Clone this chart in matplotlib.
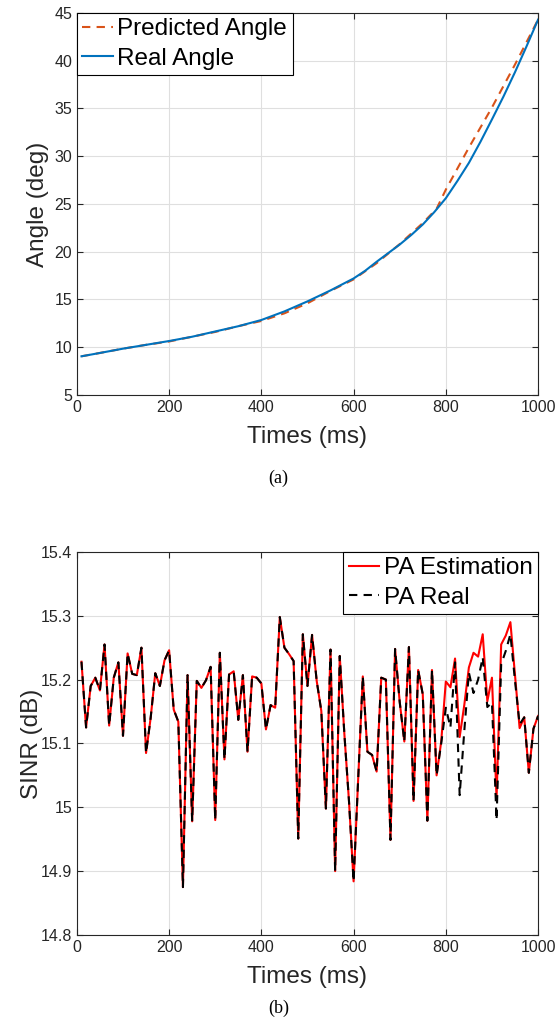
import matplotlib
matplotlib.use("Agg")
import matplotlib.pyplot as plt
import numpy as np
from matplotlib.ticker import FormatStrFormatter

plt.rcParams['font.family'] = ['Liberation Sans', 'DejaVu Sans']

# (a) angle tracking
angle_t = [10, 50, 100, 150, 200, 250, 300, 350, 400, 450, 500, 550, 600,
           625, 650, 675, 700, 725, 750, 775, 800, 825, 850, 875, 900, 925,
           950, 975, 1000]
real_angle = [9.05, 9.4, 9.85, 10.25, 10.65, 11.1, 11.65, 12.2, 12.85, 13.75,
              14.8, 15.95, 17.2, 18.0, 18.95, 19.85, 20.75, 21.75, 22.85, 24.15,
              25.6, 27.4, 29.3, 31.5, 33.85, 36.25, 38.8, 41.5, 44.3]
pred_t = [10, 50, 100, 150, 200, 250, 300, 350, 400, 450, 500, 550, 600,
          650, 700, 750, 780, 800, 850, 900, 950, 965, 1000]
pred_angle = [9.05, 9.4, 9.85, 10.25, 10.6, 11.1, 11.6, 12.2, 12.75, 13.55,
              14.6, 15.9, 17.1, 18.8, 20.8, 23.0, 24.5, 26.5, 30.9, 35.1, 39.6,
              41.0, 44.3]

# (b) SINR, one sample every 10 ms
sinr_t = list(range(10, 1001, 10))
pa_est = [15.228, 15.125, 15.190, 15.203, 15.183, 15.255, 15.128, 15.203, 15.227, 15.112,
          15.241, 15.209, 15.207, 15.250, 15.085, 15.140, 15.210, 15.190, 15.230, 15.246,
          15.153, 15.134, 14.875, 15.207, 14.978, 15.198, 15.187, 15.199, 15.220, 14.980,
          15.242, 15.075, 15.208, 15.213, 15.137, 15.207, 15.087, 15.205, 15.203, 15.194,
          15.122, 15.160, 15.156, 15.298, 15.250, 15.240, 15.229, 14.951, 15.271, 15.190,
          15.270, 15.198, 15.151, 14.998, 15.247, 14.900, 15.237, 15.115, 15.010, 14.884,
          15.045, 15.205, 15.087, 15.082, 15.056, 15.203, 15.200, 14.949, 15.248, 15.165,
          15.103, 15.251, 15.010, 15.215, 15.177, 14.979, 15.215, 15.050, 15.103, 15.197,
          15.188, 15.233, 15.110, 15.160, 15.219, 15.242, 15.236, 15.271, 15.166, 15.203,
          15.014, 15.255, 15.269, 15.290, 15.207, 15.124, 15.141, 15.054, 15.123, 15.143]
pa_real = [15.228, 15.125, 15.190, 15.203, 15.183, 15.255, 15.128, 15.203, 15.227, 15.112,
           15.241, 15.209, 15.207, 15.250, 15.085, 15.140, 15.210, 15.190, 15.230, 15.246,
           15.153, 15.134, 14.875, 15.207, 14.978, 15.198, 15.187, 15.199, 15.220, 14.980,
           15.242, 15.075, 15.208, 15.213, 15.137, 15.207, 15.087, 15.205, 15.203, 15.194,
           15.122, 15.160, 15.156, 15.298, 15.250, 15.240, 15.229, 14.951, 15.271, 15.190,
           15.270, 15.198, 15.151, 14.998, 15.247, 14.900, 15.237, 15.115, 15.010, 14.884,
           15.045, 15.205, 15.087, 15.082, 15.056, 15.203, 15.200, 14.949, 15.248, 15.165,
           15.103, 15.251, 15.010, 15.215, 15.177, 14.979, 15.215, 15.050, 15.100, 15.156,
           15.125, 15.227, 15.019, 15.119, 15.211, 15.179, 15.200, 15.235, 15.157, 15.164,
           14.980, 15.224, 15.245, 15.271, 15.198, 15.130, 15.141, 15.054, 15.123, 15.143]

fig = plt.figure(figsize=(5.57, 10.27), dpi=100)
ax1 = fig.add_axes([0.138, 0.6154, 0.828, 0.372])
ax2 = fig.add_axes([0.138, 0.0896, 0.828, 0.373])

spine_col = '#262626'
grid_col = '#dfdfdf'


def style_axes(ax):
    ax.set_axisbelow(True)
    ax.grid(True, color=grid_col, linewidth=0.8)
    for s in ax.spines.values():
        s.set_color(spine_col)
        s.set_linewidth(0.8)
    ax.tick_params(direction='in', top=True, right=True, labelsize=11.5,
                   colors=spine_col, length=4, width=0.8)


def add_legend(ax, loc):
    leg = ax.legend(loc=loc, fontsize=17.5, fancybox=False, framealpha=1,
                    edgecolor='black', borderaxespad=0, handlelength=1.25,
                    handletextpad=0.2, borderpad=0.22, labelspacing=0.3)
    leg.get_frame().set_linewidth(0.8)


ax1.plot(pred_t, pred_angle, '--', color='#d95319', lw=1.5, dashes=(4, 3),
         label='Predicted Angle')
ax1.plot(angle_t, real_angle, '-', color='#0072bd', lw=1.5, label='Real Angle')
ax1.set_xlim(0, 1000)
ax1.set_ylim(5, 45)
ax1.set_xticks(np.arange(0, 1001, 200))
ax1.set_yticks(np.arange(5, 46, 5))
style_axes(ax1)
ax1.set_xlabel('Times (ms)', fontsize=17.5, color=spine_col, labelpad=8)
ax1.set_ylabel('Angle (deg)', fontsize=17.5, color=spine_col, labelpad=4)
add_legend(ax1, 'upper left')

ax2.plot(sinr_t, pa_est, '-', color='red', lw=1.5, label='PA Estimation')
ax2.plot(sinr_t, pa_real, '--', color='black', lw=1.5, dashes=(4, 3),
         label='PA Real')
ax2.set_xlim(0, 1000)
ax2.set_ylim(14.8, 15.4)
ax2.set_xticks(np.arange(0, 1001, 200))
ax2.set_yticks(np.round(np.arange(14.8, 15.41, 0.1), 1))
ax2.yaxis.set_major_formatter(FormatStrFormatter('%g'))
style_axes(ax2)
ax2.set_xlabel('Times (ms)', fontsize=17.5, color=spine_col, labelpad=8)
ax2.set_ylabel('SINR (dB)', fontsize=17.5, color=spine_col, labelpad=-2)
add_legend(ax2, 'upper right')

fig.text(0.5, 1 - 478 / 1027, '(a)', ha='center', va='center',
         family='Liberation Serif', fontsize=13)
fig.text(0.5, 1 - 1008 / 1027, '(b)', ha='center', va='center',
         family='Liberation Serif', fontsize=13)

fig.savefig('out.png', dpi=100)
